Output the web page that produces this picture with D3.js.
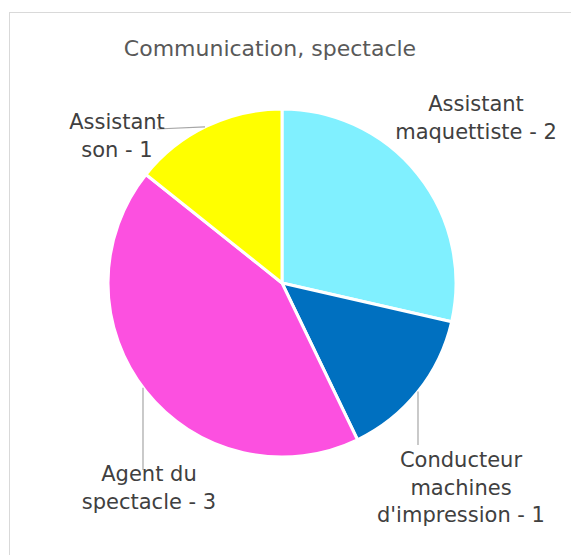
<!DOCTYPE html>
<html>
<head>
<meta charset="utf-8">
<script src="https://cdn.jsdelivr.net/npm/d3@7"></script>
<style>
  body { margin: 0; background: #fff; }
  svg { display: block; }
</style>
</head>
<body>
<svg id="chart"></svg>
<script>
// Data
const title = "Communication, spectacle";
const categories = ["Assistant maquettiste", "Conducteur machines d'impression", "Agent du spectacle", "Assistant son"];
const values = [2, 1, 3, 1];
const labelLines = [
  ["Assistant", "maquettiste - 2"],
  ["Conducteur", "machines", "d'impression - 1"],
  ["Agent du", "spectacle - 3"],
  ["Assistant", "son - 1"]
];
const colors = ["#80F0FF", "#0070C0", "#FC50E0", "#FFFF00"];

// Layout
const W = 571, H = 555;
const cx = 282, cy = 283, radius = 174;
const font = "'DejaVu Sans', sans-serif";
// label centre x and first baseline y, plus leader line end (null = none)
const labelLayout = [
  { x: 476, y: 111, leader: null },
  { x: 461, y: 467, leader: [418, 445] },
  { x: 149, y: 481, leader: [143, 470] },
  { x: 117, y: 129, leader: [157, 129] }
];
const lineH = 27.5;

const svg = d3.select("#chart").attr("width", W).attr("height", H);

// outer frame
svg.append("rect")
  .attr("x", 9.5).attr("y", 12.5)
  .attr("width", W).attr("height", H)
  .attr("fill", "#fff")
  .attr("stroke", "#d9d9d9")
  .attr("stroke-width", 1);

svg.append("text")
  .attr("x", 270).attr("y", 56)
  .attr("text-anchor", "middle")
  .attr("font-family", font)
  .attr("font-size", 22)
  .attr("fill", "#595959")
  .text(title);

const data = categories.map((c, i) => ({ name: c, value: values[i], lines: labelLines[i], color: colors[i] }));

const pie = d3.pie().value(d => d.value).sort(null);
const arc = d3.arc().innerRadius(0).outerRadius(radius);
const arcs = pie(data);

const g = svg.append("g").attr("transform", `translate(${cx},${cy})`);

g.selectAll("path")
  .data(arcs)
  .enter()
  .append("path")
  .attr("d", arc)
  .attr("fill", d => d.data.color)
  .attr("stroke", "#fff")
  .attr("stroke-width", 3)
  .attr("stroke-linejoin", "round");

// leader lines: from pie edge to label
arcs.forEach((a, i) => {
  const lay = labelLayout[i];
  if (!lay.leader) return;
  const [lx, ly] = lay.leader;
  let sx, sy;
  if (i === 3) {
    // near-horizontal leader for the top-left slice
    sx = 205;
    sy = cy - Math.sqrt(radius * radius - (sx - cx) * (sx - cx));
  } else {
    sx = lx;
    sy = cy + Math.sqrt(radius * radius - (lx - cx) * (lx - cx));
  }
  svg.append("line")
    .attr("x1", sx).attr("y1", sy)
    .attr("x2", lx).attr("y2", ly)
    .attr("stroke", "#a6a6a6")
    .attr("stroke-width", 1.2);
});

// labels
data.forEach((d, i) => {
  const lay = labelLayout[i];
  const t = svg.append("text")
    .attr("text-anchor", "middle")
    .attr("font-family", font)
    .attr("font-size", 21)
    .attr("fill", "#404040");
  d.lines.forEach((ln, j) => {
    t.append("tspan").attr("x", lay.x).attr("y", lay.y + j * lineH).text(ln);
  });
});
</script>
</body>
</html>
